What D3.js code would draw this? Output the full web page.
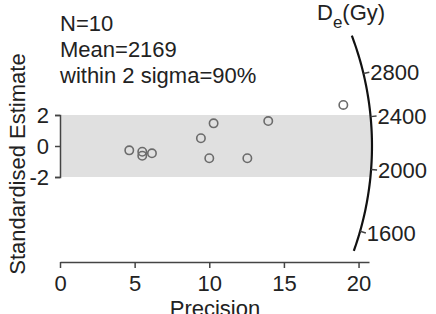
<!DOCTYPE html>
<html>
<head>
<meta charset="utf-8">
<script src="https://cdn.jsdelivr.net/npm/d3@7"></script>
<style>
  body { margin: 0; background: #fff; }
  svg { display: block; font-family: "Liberation Sans", Arial, sans-serif; }
</style>
</head>
<body>
<svg id="chart"></svg>
<script>
// radial plot data (precision = 1/sigma, standardised estimate = z)
const precision = [4.64, 5.51, 5.51, 6.16, 9.44, 10.29, 10.0, 13.95, 12.55, 18.98];
const stdEstimate = [-0.28, -0.37, -0.63, -0.47, 0.5, 1.46, -0.79, 1.61, -0.79, 2.65];
const xTicks = [0, 5, 10, 15, 20];
const yTicks = [-2, 0, 2];
const deTicks = [1600, 2000, 2400, 2800];
const deRange = [1480, 3250]; // extent of the arc
const centralDe = 2169;
const infoLines = ["N=10", "Mean=2169", "within 2 sigma=90%"];

const width = 436, height = 314;
const svg = d3.select("#chart").attr("width", width).attr("height", height);

const x = d3.scaleLinear().domain([0, 20.7]).range([60, 369]);
const y = d3.scaleLinear().domain([-2, 2]).range([177, 115]);

// slope of the radial line for a De value (log scale around the mean)
const slope = d3.scaleLog().domain([centralDe, centralDe * Math.E]).range([0, 0.9]);

const x0 = x(0), y0 = y(0);
const kx = x(1) - x(0), ky = y(0) - y(1);
const R = x(20.9) - x(0); // arc radius in px

// pixel position on the arc (radius r) for a De value
const arcPoint = (d, r) => {
  const dx = kx, dy = -slope(d) * ky;
  const len = Math.hypot(dx, dy);
  return [x0 + dx / len * r, y0 + dy / len * r];
};

// shaded +-2 band, closed by the arc
const bandTop = y(2) - y0, bandBot = y(-2) - y0;
const a1 = Math.asin(bandTop / R), a2 = Math.asin(bandBot / R);
const bandPts = [[x0, y(2)]];
d3.range(0, 21).forEach(i => {
  const a = a1 + (a2 - a1) * i / 20;
  bandPts.push([x0 + R * Math.cos(a), y0 + R * Math.sin(a)]);
});
bandPts.push([x0, y(-2)]);
svg.append("path")
  .attr("d", d3.line()(bandPts) + "Z")
  .attr("fill", "#e0e0e0");

// axes
const gx = svg.append("g")
  .attr("transform", `translate(0,${262})`)
  .call(d3.axisBottom(x).tickValues(xTicks).tickSize(6).tickSizeOuter(0).tickPadding(7));
const gy = svg.append("g")
  .attr("transform", `translate(${x0},0)`)
  .call(d3.axisLeft(y).tickValues(yTicks).tickFormat(d => String(d))
    .tickSize(5).tickSizeOuter(5).tickPadding(6));
[gx, gy].forEach(g => {
  g.selectAll("path, line").attr("stroke", "#444").attr("stroke-width", 1.5);
  g.selectAll("text").attr("fill", "#222").style("font-size", "22px")
    .style("font-family", "'Liberation Sans', Arial, sans-serif");
});

// arc
const arcPts = d3.range(0, 61).map(i => {
  const d = Math.exp(Math.log(deRange[0]) + (Math.log(deRange[1]) - Math.log(deRange[0])) * i / 60);
  return arcPoint(d, R);
});
svg.append("path")
  .attr("d", d3.line().curve(d3.curveBasis)(arcPts))
  .attr("fill", "none")
  .attr("stroke", "#111")
  .attr("stroke-width", 2.2);

// arc ticks and labels
const tk = svg.append("g").selectAll("g").data(deTicks).enter().append("g");
tk.append("line")
  .attr("x1", d => arcPoint(d, R)[0]).attr("y1", d => arcPoint(d, R)[1])
  .attr("x2", d => arcPoint(d, R + 6)[0]).attr("y2", d => arcPoint(d, R + 6)[1])
  .attr("stroke", "#444").attr("stroke-width", 1.5);
tk.append("text")
  .attr("x", d => arcPoint(d, R + 7)[0])
  .attr("y", d => arcPoint(d, R + 7)[1])
  .attr("dy", "0.35em")
  .attr("fill", "#222")
  .style("font-size", "22px")
  .text(d => d);

// De(Gy) label
const de = svg.append("text").attr("x", 317).attr("y", 20).attr("fill", "#222").style("font-size", "22px");
de.append("tspan").text("D");
de.append("tspan").attr("dy", 8).style("font-size", "17px").text("e");
de.append("tspan").attr("dy", -8).text("(Gy)");

// points
svg.append("g").selectAll("circle")
  .data(precision.map((p, i) => [p, stdEstimate[i]]))
  .enter().append("circle")
  .attr("cx", d => x(d[0]))
  .attr("cy", d => y(d[1]))
  .attr("r", 4.2)
  .attr("fill", "none")
  .attr("stroke", "#6b6b6b")
  .attr("stroke-width", 1.6);

// info text
svg.append("g").selectAll("text").data(infoLines).enter().append("text")
  .attr("x", 60)
  .attr("y", (d, i) => 31 + i * 26)
  .attr("fill", "#222")
  .style("font-size", "22px")
  .text(d => d);

// axis titles
svg.append("text")
  .attr("transform", "translate(25,164) rotate(-90)")
  .attr("text-anchor", "middle")
  .attr("fill", "#222")
  .style("font-size", "22px")
  .text("Standardised Estimate");
svg.append("text")
  .attr("x", 215).attr("y", 316)
  .attr("text-anchor", "middle")
  .attr("fill", "#222")
  .style("font-size", "22px")
  .text("Precision");
</script>
</body>
</html>
